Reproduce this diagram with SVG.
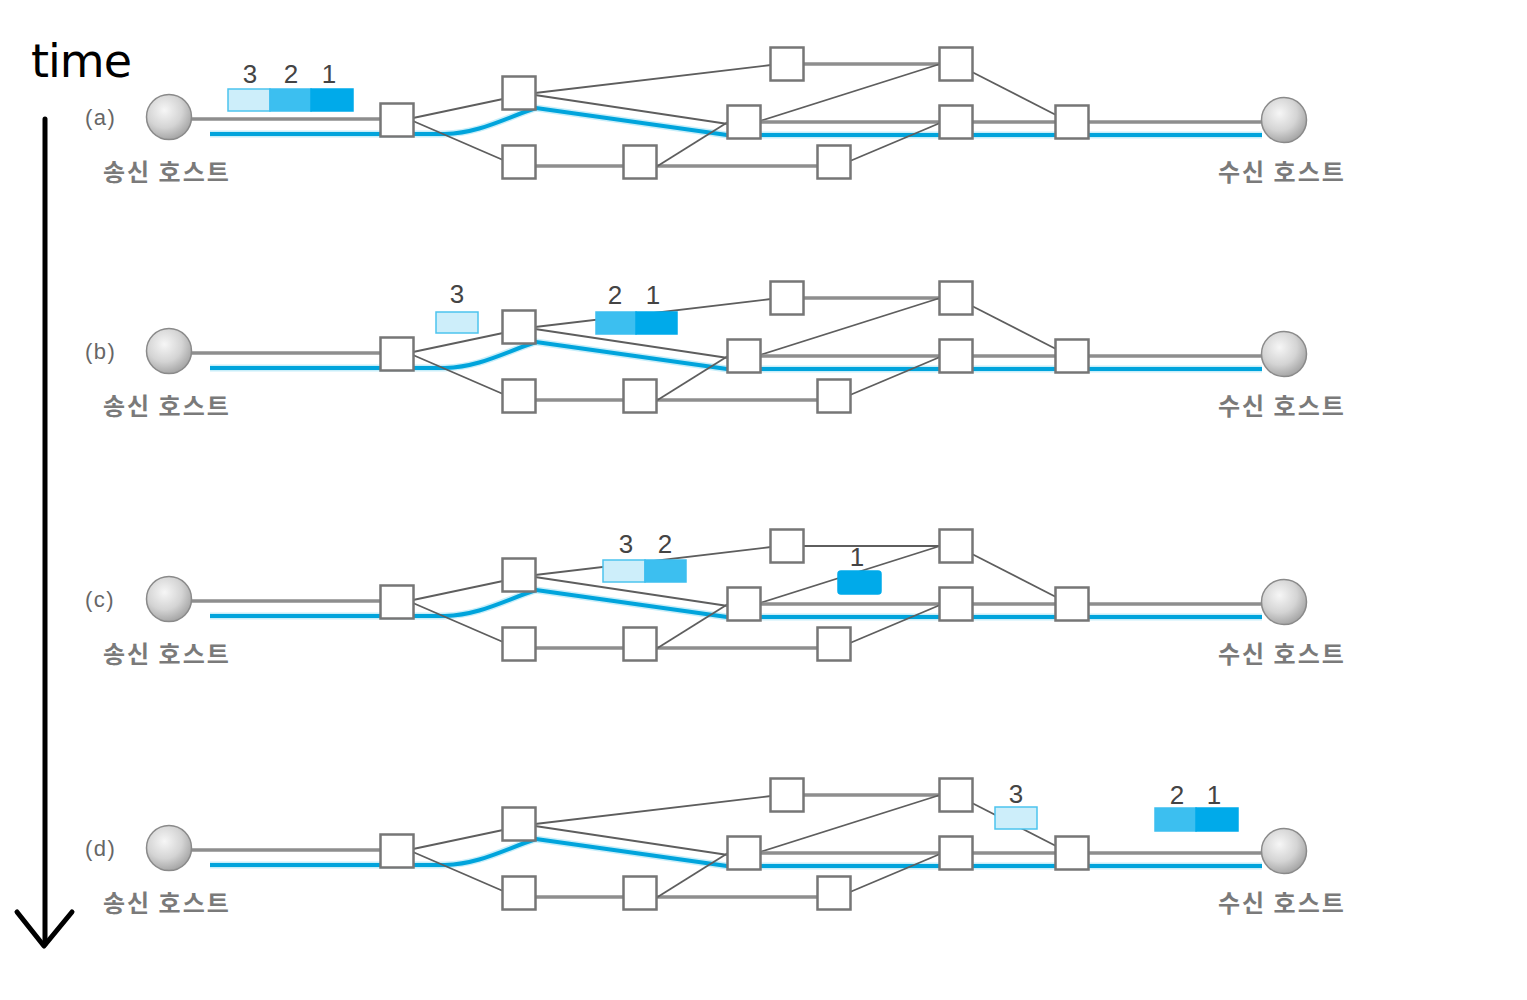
<svg xmlns="http://www.w3.org/2000/svg" width="1527" height="1000" viewBox="0 0 1527 1000">
<defs>
<radialGradient id="hostGrad" cx="40%" cy="35%" r="65%">
<stop offset="0" stop-color="#f6f6f6"/>
<stop offset="0.6" stop-color="#d4d4d4"/>
<stop offset="1" stop-color="#a8a8a8"/>
</radialGradient>
<g id="panel-base">
<path class="halo" d="M210,134 H415 L445,134 C480,133 505,118 536,108 L727,135 H1262"/>
<path class="blue" d="M210,134 H415 L445,134 C480,133 505,118 536,108 L727,135 H1262"/>
</g>
</defs>
<style>
.halo{fill:none;stroke:#c8eef9;stroke-width:7;stroke-linejoin:round}
.blue{fill:none;stroke:#00a4dc;stroke-width:4;stroke-linejoin:round}
.thick{fill:none;stroke:#8e8e8e;stroke-width:3.5}
.thin{fill:none;stroke:#5e5e5e;stroke-width:1.8}
.box{fill:#ffffff;stroke:#767676;stroke-width:2.5}
.host{fill:url(#hostGrad);stroke:#8a8a8a;stroke-width:1.5}
.lbl{font-family:"Noto Sans CJK KR","Noto Sans",sans-serif;font-size:24px;font-weight:700;fill:#7a7a7a;letter-spacing:2px}
.tag{font-family:"Liberation Sans",Arial,sans-serif;font-size:22px;fill:#666;letter-spacing:1.5px}
.num{font-family:"Liberation Sans",Arial,sans-serif;font-size:26px;fill:#444;text-anchor:middle}
.p1{fill:#cdeefa;stroke:#4cc4ee;stroke-width:1.5}
.p2{fill:#3cbff0;stroke:#3cbff0;stroke-width:1.5}
.p3{fill:#00aaea;stroke:#00aaea;stroke-width:1.5}
</style>
<rect width="1527" height="1000" fill="#ffffff"/>

<!-- time axis -->
<g id="time-axis">
<text x="31" y="77" font-family="DejaVu Sans, sans-serif" font-size="46" letter-spacing="-1" fill="#000">time</text>
<line x1="45" y1="119" x2="45" y2="944" stroke="#000" stroke-width="5" stroke-linecap="round"/>
<polyline points="17,912 44,946 72,912" fill="none" stroke="#000" stroke-width="5" stroke-linecap="round" stroke-linejoin="round"/>
</g>

<!-- Panel (a) -->
<g id="panel-a">
<g id="a-connectors">
<use href="#panel-base"/>
<path class="thick" d="M191,119 H381"/>
<path class="thin" d="M413,118 L503,99"/>
<path class="thin" d="M413,121 L503,160"/>
<path class="thin" d="M535,93 L771,65"/>
<path class="thin" d="M535,95 L728,124"/>
<path class="thick" d="M535,166 H624"/>
<path class="thick" d="M656,166 H818"/>
<path class="thin" d="M656,167 L728,122"/>
<path class="thick" d="M803,64 H940"/>
<path class="thin" d="M760,121 L940,64"/>
<path class="thick" d="M760,122 H940"/>
<path class="thin" d="M850,161 L940,123"/>
<path class="thin" d="M972,72 L1056,115"/>
<path class="thick" d="M972,122 H1056"/>
<path class="thick" d="M1088,122 H1262"/>
</g>
<g id="a-sender"><circle class="host" cx="169" cy="117" r="22.5"/><text class="tag" x="85" y="125">(a)</text><text class="lbl" x="103" y="181">송신 호스트</text></g>
<g id="a-receiver"><circle class="host" cx="1284" cy="120" r="22.5"/><text class="lbl" x="1218" y="181">수신 호스트</text></g>
<g id="a-r1"><rect class="box" x="380.5" y="103.5" width="33" height="33"/></g>
<g id="a-r2"><rect class="box" x="502.5" y="76.5" width="33" height="33"/></g>
<g id="a-r3"><rect class="box" x="502.5" y="145.5" width="33" height="33"/></g>
<g id="a-r4"><rect class="box" x="623.5" y="145.5" width="33" height="33"/></g>
<g id="a-r5"><rect class="box" x="770.5" y="47.5" width="33" height="33"/></g>
<g id="a-r6"><rect class="box" x="727.5" y="105.5" width="33" height="33"/></g>
<g id="a-r7"><rect class="box" x="817.5" y="145.5" width="33" height="33"/></g>
<g id="a-r8"><rect class="box" x="939.5" y="47.5" width="33" height="33"/></g>
<g id="a-r9"><rect class="box" x="939.5" y="105.5" width="33" height="33"/></g>
<g id="a-r10"><rect class="box" x="1055.5" y="105.5" width="33" height="33"/></g>
<g id="a-packets">
<rect class="p1" x="228" y="89" width="42" height="22"/>
<rect class="p2" x="270" y="89" width="41" height="22"/>
<rect class="p3" x="311" y="89" width="42" height="22"/>
<text class="num" x="250" y="83">3</text>
<text class="num" x="291" y="83">2</text>
<text class="num" x="329" y="83">1</text>
</g>
</g>

<!-- Panel (b) -->
<g id="panel-b" transform="translate(0,234)">
<g id="b-connectors">
<use href="#panel-base"/>
<path class="thick" d="M191,119 H381"/>
<path class="thin" d="M413,118 L503,99"/>
<path class="thin" d="M413,121 L503,160"/>
<path class="thin" d="M535,93 L771,65"/>
<path class="thin" d="M535,95 L728,124"/>
<path class="thick" d="M535,166 H624"/>
<path class="thick" d="M656,166 H818"/>
<path class="thin" d="M656,167 L728,122"/>
<path class="thick" d="M803,64 H940"/>
<path class="thin" d="M760,121 L940,64"/>
<path class="thick" d="M760,122 H940"/>
<path class="thin" d="M850,161 L940,123"/>
<path class="thin" d="M972,72 L1056,115"/>
<path class="thick" d="M972,122 H1056"/>
<path class="thick" d="M1088,122 H1262"/>
</g>
<g id="b-sender"><circle class="host" cx="169" cy="117" r="22.5"/><text class="tag" x="85" y="125">(b)</text><text class="lbl" x="103" y="181">송신 호스트</text></g>
<g id="b-receiver"><circle class="host" cx="1284" cy="120" r="22.5"/><text class="lbl" x="1218" y="181">수신 호스트</text></g>
<g id="b-r1"><rect class="box" x="380.5" y="103.5" width="33" height="33"/></g>
<g id="b-r2"><rect class="box" x="502.5" y="76.5" width="33" height="33"/></g>
<g id="b-r3"><rect class="box" x="502.5" y="145.5" width="33" height="33"/></g>
<g id="b-r4"><rect class="box" x="623.5" y="145.5" width="33" height="33"/></g>
<g id="b-r5"><rect class="box" x="770.5" y="47.5" width="33" height="33"/></g>
<g id="b-r6"><rect class="box" x="727.5" y="105.5" width="33" height="33"/></g>
<g id="b-r7"><rect class="box" x="817.5" y="145.5" width="33" height="33"/></g>
<g id="b-r8"><rect class="box" x="939.5" y="47.5" width="33" height="33"/></g>
<g id="b-r9"><rect class="box" x="939.5" y="105.5" width="33" height="33"/></g>
<g id="b-r10"><rect class="box" x="1055.5" y="105.5" width="33" height="33"/></g>
</g>
<g id="b-packets">
<rect class="p1" x="436" y="312" width="42" height="21"/>
<text class="num" x="457" y="303">3</text>
<rect class="p2" x="596" y="312" width="40" height="22"/>
<rect class="p3" x="636" y="312" width="41" height="22"/>
<text class="num" x="615" y="304">2</text>
<text class="num" x="653" y="304">1</text>
</g>

<!-- Panel (c) -->
<g id="panel-c" transform="translate(0,482)">
<g id="c-connectors">
<use href="#panel-base"/>
<path class="thick" d="M191,119 H381"/>
<path class="thin" d="M413,118 L503,99"/>
<path class="thin" d="M413,121 L503,160"/>
<path class="thin" d="M535,93 L771,65"/>
<path class="thin" d="M535,95 L728,124"/>
<path class="thick" d="M535,166 H624"/>
<path class="thick" d="M656,166 H818"/>
<path class="thin" d="M656,167 L728,122"/>
<path class="thin" d="M803,64 H940"/>
<path class="thin" d="M760,121 L940,64"/>
<path class="thick" d="M760,122 H940"/>
<path class="thin" d="M850,161 L940,123"/>
<path class="thin" d="M972,72 L1056,115"/>
<path class="thick" d="M972,122 H1056"/>
<path class="thick" d="M1088,122 H1262"/>
</g>
<g id="c-sender"><circle class="host" cx="169" cy="117" r="22.5"/><text class="tag" x="85" y="125">(c)</text><text class="lbl" x="103" y="181">송신 호스트</text></g>
<g id="c-receiver"><circle class="host" cx="1284" cy="120" r="22.5"/><text class="lbl" x="1218" y="181">수신 호스트</text></g>
<g id="c-r1"><rect class="box" x="380.5" y="103.5" width="33" height="33"/></g>
<g id="c-r2"><rect class="box" x="502.5" y="76.5" width="33" height="33"/></g>
<g id="c-r3"><rect class="box" x="502.5" y="145.5" width="33" height="33"/></g>
<g id="c-r4"><rect class="box" x="623.5" y="145.5" width="33" height="33"/></g>
<g id="c-r5"><rect class="box" x="770.5" y="47.5" width="33" height="33"/></g>
<g id="c-r6"><rect class="box" x="727.5" y="105.5" width="33" height="33"/></g>
<g id="c-r7"><rect class="box" x="817.5" y="145.5" width="33" height="33"/></g>
<g id="c-r8"><rect class="box" x="939.5" y="47.5" width="33" height="33"/></g>
<g id="c-r9"><rect class="box" x="939.5" y="105.5" width="33" height="33"/></g>
<g id="c-r10"><rect class="box" x="1055.5" y="105.5" width="33" height="33"/></g>
</g>
<g id="c-packets">
<rect class="p1" x="603" y="560" width="42" height="22"/>
<rect class="p2" x="645" y="560" width="41" height="22"/>
<text class="num" x="626" y="553">3</text>
<text class="num" x="665" y="553">2</text>
<text class="num" x="857" y="566" font-size="20">1</text>
<rect class="p3" x="838" y="571" width="43" height="23" rx="3"/>
</g>

<!-- Panel (d) -->
<g id="panel-d" transform="translate(0,731)">
<g id="d-connectors">
<use href="#panel-base"/>
<path class="thick" d="M191,119 H381"/>
<path class="thin" d="M413,118 L503,99"/>
<path class="thin" d="M413,121 L503,160"/>
<path class="thin" d="M535,93 L771,65"/>
<path class="thin" d="M535,95 L728,124"/>
<path class="thick" d="M535,166 H624"/>
<path class="thick" d="M656,166 H818"/>
<path class="thin" d="M656,167 L728,122"/>
<path class="thick" d="M803,64 H940"/>
<path class="thin" d="M760,121 L940,64"/>
<path class="thick" d="M760,122 H940"/>
<path class="thin" d="M850,161 L940,123"/>
<path class="thin" d="M972,72 L1056,115"/>
<path class="thick" d="M972,122 H1056"/>
<path class="thick" d="M1088,122 H1262"/>
</g>
<g id="d-sender"><circle class="host" cx="169" cy="117" r="22.5"/><text class="tag" x="85" y="125">(d)</text><text class="lbl" x="103" y="181">송신 호스트</text></g>
<g id="d-receiver"><circle class="host" cx="1284" cy="120" r="22.5"/><text class="lbl" x="1218" y="181">수신 호스트</text></g>
<g id="d-r1"><rect class="box" x="380.5" y="103.5" width="33" height="33"/></g>
<g id="d-r2"><rect class="box" x="502.5" y="76.5" width="33" height="33"/></g>
<g id="d-r3"><rect class="box" x="502.5" y="145.5" width="33" height="33"/></g>
<g id="d-r4"><rect class="box" x="623.5" y="145.5" width="33" height="33"/></g>
<g id="d-r5"><rect class="box" x="770.5" y="47.5" width="33" height="33"/></g>
<g id="d-r6"><rect class="box" x="727.5" y="105.5" width="33" height="33"/></g>
<g id="d-r7"><rect class="box" x="817.5" y="145.5" width="33" height="33"/></g>
<g id="d-r8"><rect class="box" x="939.5" y="47.5" width="33" height="33"/></g>
<g id="d-r9"><rect class="box" x="939.5" y="105.5" width="33" height="33"/></g>
<g id="d-r10"><rect class="box" x="1055.5" y="105.5" width="33" height="33"/></g>
</g>
<g id="d-packets">
<rect class="p1" x="995" y="807" width="42" height="22"/>
<text class="num" x="1016" y="803">3</text>
<rect class="p2" x="1155" y="808" width="41" height="23"/>
<rect class="p3" x="1196" y="808" width="42" height="23"/>
<text class="num" x="1177" y="804">2</text>
<text class="num" x="1214" y="804">1</text>
</g>
</svg>
